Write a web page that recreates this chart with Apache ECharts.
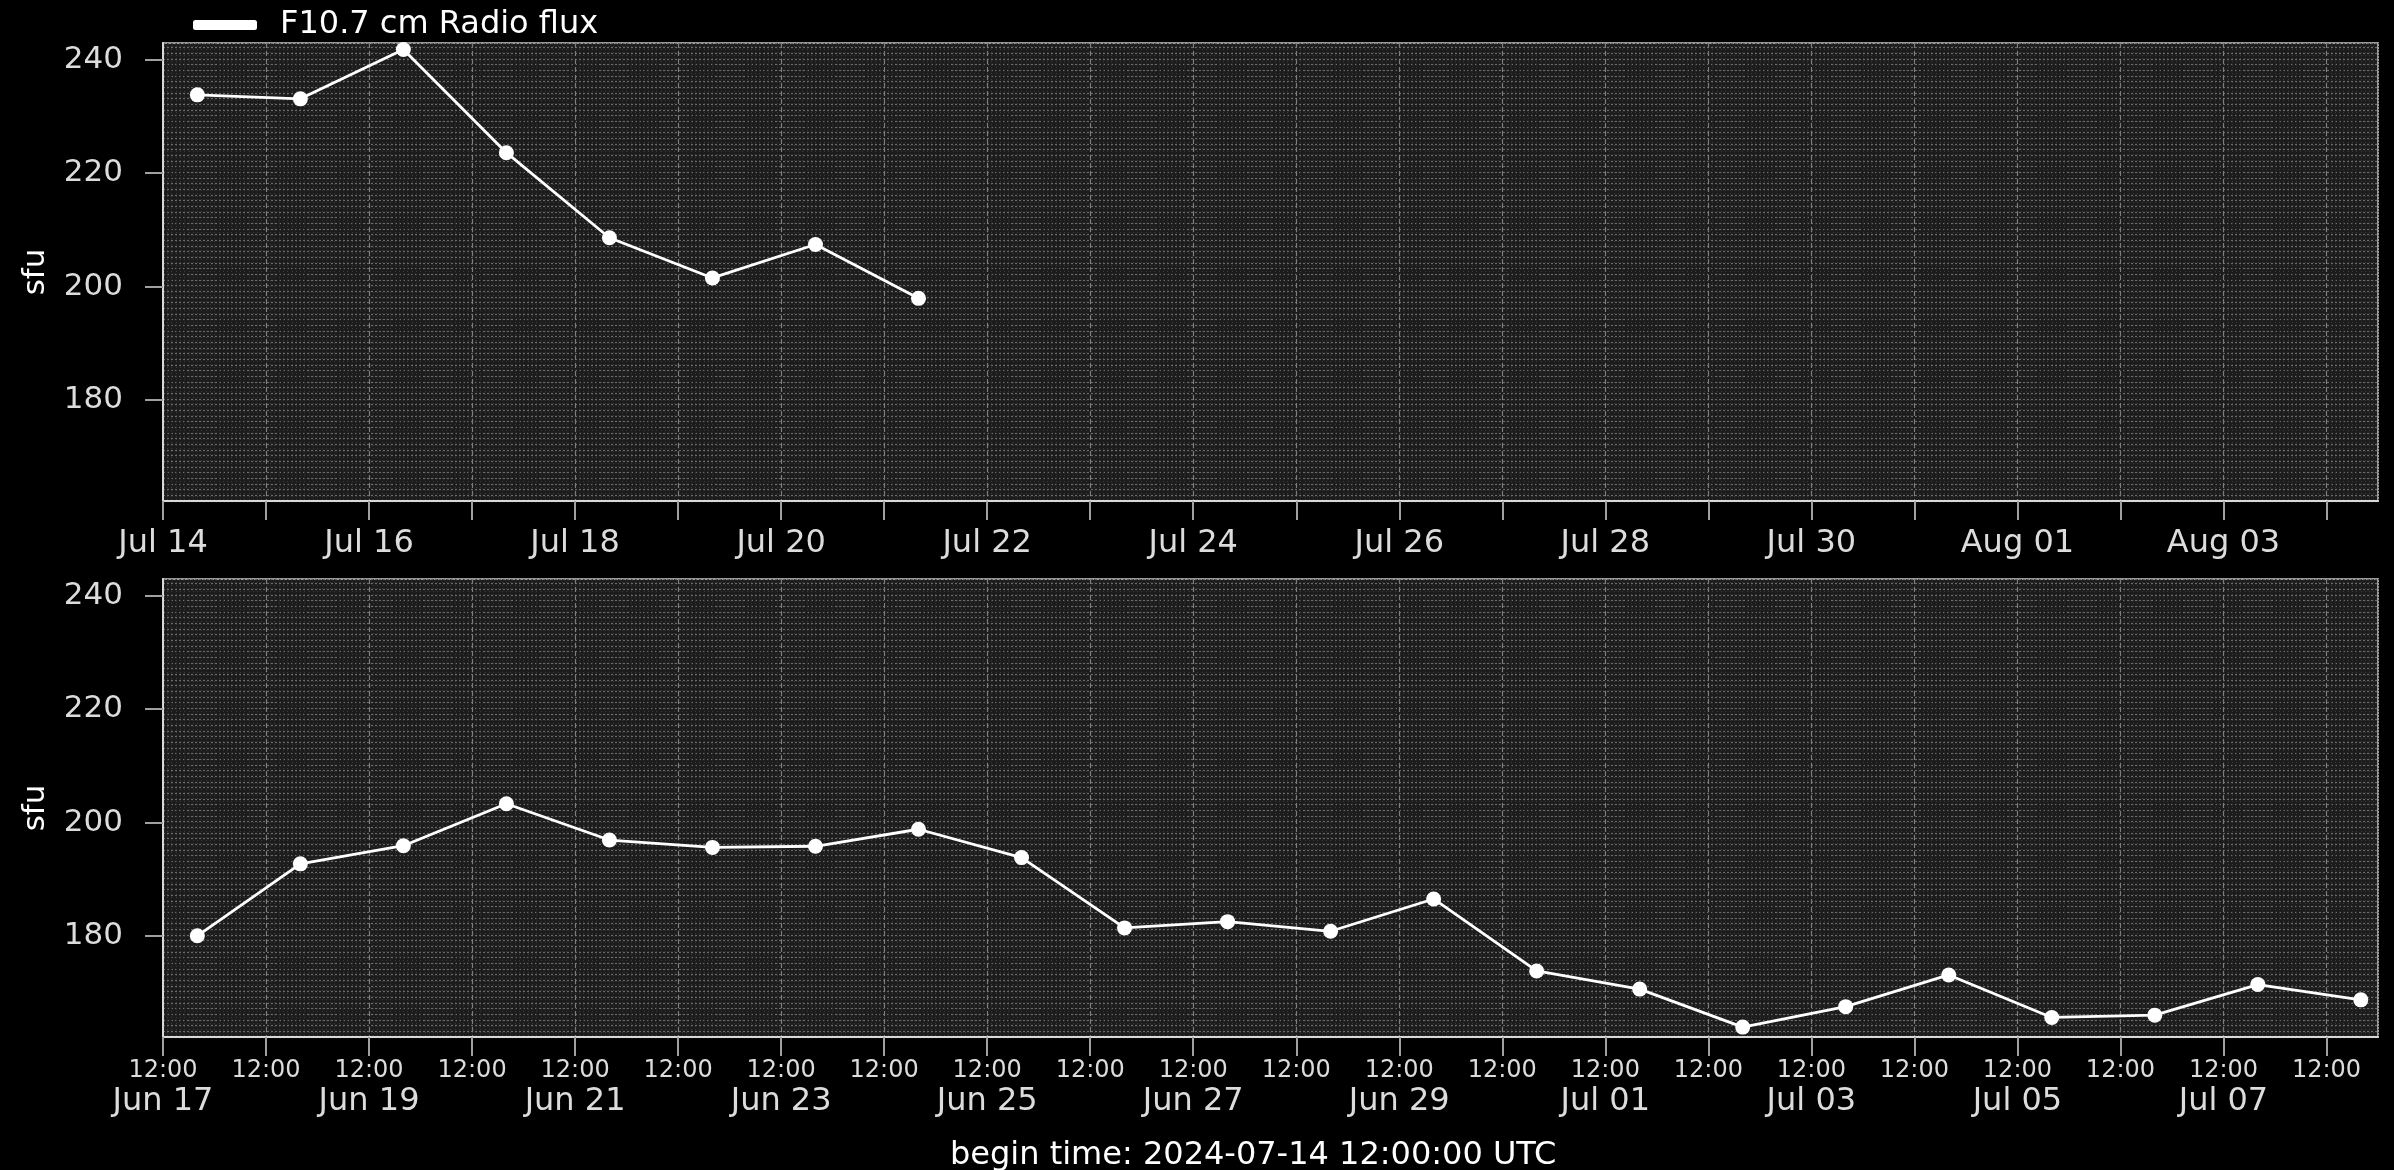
<!DOCTYPE html>
<html><head><meta charset="utf-8">
<script src="https://cdn.jsdelivr.net/npm/echarts@6/dist/echarts.min.js"></script>
<style>html,body{margin:0;background:#000}#c{width:2394px;height:1170px}</style></head>
<body><div id="c"></div>
<script>
// ---- data ----
const seriesName = 'F10.7 cm Radio flux';
const topAxisStart = '2024-07-14T00:00:00Z';
const bottomAxisStart = '2024-06-17T12:00:00Z';
const axisSpanDays = 21.5;
const topTimes = ['2024-07-14T08:00:00Z','2024-07-15T08:00:00Z','2024-07-16T08:00:00Z','2024-07-17T08:00:00Z',
  '2024-07-18T08:00:00Z','2024-07-19T08:00:00Z','2024-07-20T08:00:00Z','2024-07-21T08:00:00Z'];
const topFlux = [233.8, 233.1, 241.8, 223.6, 208.6, 201.5, 207.4, 197.9];
const bottomTimes = ['2024-06-17T20:00:00Z','2024-06-18T20:00:00Z','2024-06-19T20:00:00Z','2024-06-20T20:00:00Z',
  '2024-06-21T20:00:00Z','2024-06-22T20:00:00Z','2024-06-23T20:00:00Z','2024-06-24T20:00:00Z','2024-06-25T20:00:00Z',
  '2024-06-26T20:00:00Z','2024-06-27T20:00:00Z','2024-06-28T20:00:00Z','2024-06-29T20:00:00Z','2024-06-30T20:00:00Z',
  '2024-07-01T20:00:00Z','2024-07-02T20:00:00Z','2024-07-03T20:00:00Z','2024-07-04T20:00:00Z','2024-07-05T20:00:00Z',
  '2024-07-06T20:00:00Z','2024-07-07T20:00:00Z','2024-07-08T20:00:00Z'];
const bottomFlux = [180.0, 192.7, 195.9, 203.3, 196.9, 195.6, 195.8, 198.8, 193.8, 181.4, 182.5,
  180.8, 186.5, 173.8, 170.6, 163.9, 167.5, 173.1, 165.6, 166.0, 171.4, 168.7];
const yMin = 162.15, yMax = 242.95;
const yTicks = [180, 200, 220, 240];
const yLabel = 'sfu';
const beginText = 'begin time: 2024-07-14 12:00:00 UTC';
const monthNames = ['Jan','Feb','Mar','Apr','May','Jun','Jul','Aug','Sep','Oct','Nov','Dec'];

// ---- helpers ----
const DAY = 86400000;
const toDays = (t, start) => (Date.parse(t) - Date.parse(start)) / DAY;
const dayTicks = [];
for (let i = 0; i <= Math.floor(axisSpanDays); i++) dayTicks.push(i);
function dateLabel(start, v) {
  const d = new Date(Date.parse(start) + v * DAY);
  return monthNames[d.getUTCMonth()] + ' ' + String(d.getUTCDate()).padStart(2, '0');
}
const FONT = 'DejaVu Sans';
const LABEL = '#dcdcdc';

function fineX(grid) {
  return { gridIndex: grid, type: 'value', position: 'top', min: 0, max: axisSpanDays, interval: 1 / 24,
    axisLine: {show: false}, axisTick: {show: false}, axisLabel: {show: false},
    splitLine: {show: true, lineStyle: {color: '#3a3a3a', width: 1, type: [1, 2]}} };
}
function fineY(grid) {
  return { gridIndex: grid, type: 'value', position: 'right', min: yMin, max: yMax, interval: 1,
    axisLine: {show: false}, axisTick: {show: false}, axisLabel: {show: false},
    splitLine: {show: true, lineStyle: {color: '#6a6a6a', width: 1.2, type: [2, 2]}} };
}
function mainX(grid, fmt, labelStyle) {
  return { gridIndex: grid, type: 'value', position: 'bottom', min: 0, max: axisSpanDays, interval: 1,
    axisLine: {show: true, lineStyle: {color: '#d8d8d8', width: 2}},
    axisTick: {show: true, length: 19, customValues: dayTicks, lineStyle: {color: '#a0a0a0', width: 2}},
    axisLabel: Object.assign({show: true, customValues: dayTicks, formatter: fmt, fontFamily: FONT, color: LABEL}, labelStyle),
    splitLine: {show: true, lineStyle: {color: '#7c7c7c', width: 1.2, type: [5, 3]}} };
}
function mainY(grid) {
  return { gridIndex: grid, type: 'value', position: 'left', min: yMin, max: yMax, interval: 20,
    name: yLabel, nameLocation: 'middle', nameGap: 112,
    nameTextStyle: {color: '#ffffff', fontSize: 31, fontFamily: FONT},
    axisLine: {show: true, lineStyle: {color: '#d8d8d8', width: 2}},
    axisTick: {show: true, length: 18, customValues: yTicks, lineStyle: {color: '#a0a0a0', width: 2}},
    axisLabel: {show: true, customValues: yTicks, margin: 40, fontSize: 31, fontFamily: FONT, color: LABEL,
      formatter: v => (Math.abs(v % 20) < 1e-6 ? String(v) : '')},
    splitLine: {show: false} };
}

const topFmt = v => (Number.isInteger(v) && v % 2 === 0) ? dateLabel(topAxisStart, v) : '';
const bottomFmt = v => {
  if (!Number.isInteger(v)) return '';
  return v % 2 === 0 ? '{a|12:00}\n{b|' + dateLabel(bottomAxisStart, v) + '}' : '{a|12:00}';
};

const gridCommon = {left: 163, right: 16, height: 458, show: true, backgroundColor: '#1c1c1c',
  borderColor: '#9a9a9a', borderWidth: 2, containLabel: false, outerBoundsMode: 'none'};

const option = {
  backgroundColor: '#000',
  animation: false,
  legend: {
    data: [seriesName], left: 188, top: 4, icon: 'roundRect', itemWidth: 64, itemHeight: 10,
    textStyle: {color: '#ffffff', fontSize: 32, fontFamily: FONT, padding: [0, 0, 0, 18]}
  },
  grid: [Object.assign({top: 43}, gridCommon), Object.assign({top: 579}, gridCommon)],
  xAxis: [
    fineX(0), mainX(0, topFmt, {margin: 27, fontSize: 32}),
    fineX(1), mainX(1, bottomFmt, {margin: 20, rich: {
      a: {fontSize: 24, lineHeight: 28, fontFamily: FONT, color: LABEL},
      b: {fontSize: 32, lineHeight: 34, fontFamily: FONT, color: LABEL}}})
  ],
  yAxis: [fineY(0), mainY(0), fineY(1), mainY(1)],
  graphic: [{
    type: 'text', left: 1252 - 302, top: 1140,
    style: {text: beginText, fill: '#ffffff', fontSize: 32, fontFamily: FONT}
  }],
  series: [
    {name: seriesName, type: 'line', xAxisIndex: 1, yAxisIndex: 1,
      data: topTimes.map((t, i) => [toDays(t, topAxisStart), topFlux[i]]),
      symbol: 'circle', symbolSize: 15, lineStyle: {color: '#fff', width: 2.8}, itemStyle: {color: '#fff'}},
    {name: seriesName, type: 'line', xAxisIndex: 3, yAxisIndex: 3,
      data: bottomTimes.map((t, i) => [toDays(t, bottomAxisStart), bottomFlux[i]]),
      symbol: 'circle', symbolSize: 15, lineStyle: {color: '#fff', width: 2.8}, itemStyle: {color: '#fff'}}
  ]
};
const chart = echarts.init(document.getElementById('c'));
chart.setOption(option);
</script></body></html>
